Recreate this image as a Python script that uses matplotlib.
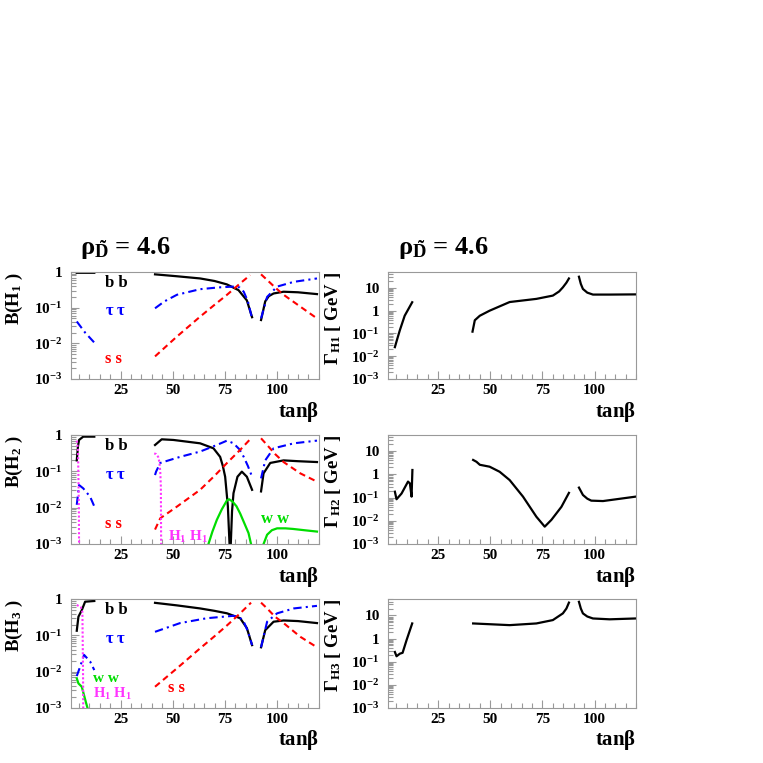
import numpy as np
import matplotlib
matplotlib.use('Agg')
import matplotlib.pyplot as plt
from matplotlib.ticker import FixedLocator, FuncFormatter, LogLocator, NullFormatter, MultipleLocator

nan = np.nan

# police serif grasse comme dans ROOT
plt.rcParams['font.family'] = ['Liberation Serif', 'DejaVu Serif']
plt.rcParams['font.weight'] = 'bold'
plt.rcParams['mathtext.fontset'] = 'custom'
plt.rcParams['mathtext.rm'] = 'Liberation Serif:bold'
plt.rcParams['mathtext.it'] = 'Liberation Serif:bold'
plt.rcParams['mathtext.bf'] = 'Liberation Serif:bold'

# ---- H1 : rapports d'embranchement ----
h1_bb_x = [4, 12.4, nan, 41.5, 52, 63.1, 70, 75.9, 81.5, 85.5, 88, nan, 92.3, 94.3, 96, 98.3, 103.1, 110, 119.1]
h1_bb_y = [0.95, 0.95, nan, 0.86, 0.76, 0.66, 0.56, 0.45, 0.31, 0.16, 0.054, nan, 0.045, 0.15, 0.21, 0.25, 0.28, 0.27, 0.24]
h1_tt_x = [4, 8, 12.4, nan, 41.5, 46, 52, 63.1, 72, 79.1, 82, 84, 86, 88, nan, 92.3, 95.2, 100, 108, 119.1]
h1_tt_y = [0.041, 0.02, 0.0105, nan, 0.096, 0.15, 0.23, 0.33, 0.37, 0.39, 0.37, 0.28, 0.15, 0.05, nan, 0.05, 0.2, 0.39, 0.53, 0.66]
h1_ss_x = [41.5, 52, 63.1, 70, 76, 82.3, 87.1, nan, 92.3, 95.2, 99, 103.1, 111.1, 119.1]
h1_ss_y = [0.0043, 0.0155, 0.056, 0.12, 0.23, 0.48, 0.82, nan, 0.86, 0.6, 0.37, 0.23, 0.107, 0.05]

# ---- H2 ----
h2_bb_x = [4, 4.6, 5.1, 7.1, 12.4, nan, 41.5, 44.7, 50.3, 63.1, 69.5, 72.7, 74, 75.1, 76.4, 77.2, nan,
           77.8, 78.4, 79.1, 81, 83.1, 85.5, 88, nan, 92.3, 93.5, 96.7, 103.1, 110, 119.1]
h2_bb_y = [0.2, 0.5, 0.73, 0.9, 0.9, nan, 0.53, 0.76, 0.73, 0.59, 0.43, 0.25, 0.14, 0.071, 0.011, 0.001, nan,
           0.001, 0.008, 0.025, 0.071, 0.098, 0.071, 0.031, nan, 0.028, 0.088, 0.17, 0.2, 0.19, 0.18]
h2_tt_x = [4, 5.1, 7.1, 10.4, 12.8, nan, 41.5, 42, 44, 53.5, 63.1, 71.1, 76, 79.1, 82, 84, 86, 88, nan,
           92.3, 94.3, 98.3, 108, 119.1]
h2_tt_y = [0.012, 0.042, 0.034, 0.02, 0.0096, nan, 0.079, 0.098, 0.17, 0.25, 0.35, 0.53, 0.7, 0.59, 0.4, 0.25, 0.14, 0.071, nan,
           0.064, 0.2, 0.43, 0.59, 0.7]
h2_ss_x = [41.5, 44, 52, 63.1, 70, 76, 82.3, 87.5, nan, 92.3, 95.2, 99, 103.1, 111.1, 119.1]
h2_ss_y = [0.0025, 0.0051, 0.0107, 0.031, 0.075, 0.17, 0.39, 0.81, nan, 0.81, 0.53, 0.3, 0.18, 0.088, 0.052]
h2_ww_x = [67.1, 69, 71.1, 73.5, 76, 77, 78.5, 80.5, 82.3, 84.5, 86.3, 87.5, nan,
           93.5, 95.2, 97.5, 100, 104, 107.6, 113, 119.1]
h2_ww_y = [0.001, 0.0022, 0.0046, 0.009, 0.016, 0.017, 0.015, 0.011, 0.0069, 0.0035, 0.002, 0.001, nan,
           0.001, 0.0018, 0.0024, 0.0027, 0.0027, 0.0026, 0.0024, 0.0022]
h2_hh_x = [4.0, 4.6, 5.0, 5.2, nan, 41.1, 42, 43.0, 43.6, 44.0, 44.3, 44.5]
h2_hh_y = [0.7, 0.4, 0.01, 0.0001, nan, 0.31, 0.3, 0.25, 0.18, 0.1, 0.038, 0.0001]

# ---- H3 ----
h3_bb_x = [4, 4.8, 6.4, 8, 12.4, nan, 41.5, 52, 63.1, 70, 76, 82.3, 85.5, 88, nan,
           92.3, 94.3, 98.3, 103.1, 110, 119.1]
h3_bb_y = [0.135, 0.33, 0.5, 0.86, 0.9, nan, 0.8, 0.68, 0.56, 0.48, 0.41, 0.3, 0.16, 0.054, nan,
           0.047, 0.14, 0.24, 0.26, 0.25, 0.22]
h3_tt_x = [4, 5.6, 7.5, 10.4, 12.4, nan, 41.5, 53.5, 66.3, 79.1, 82, 84, 86, 88, nan,
           92.3, 95.2, 100, 108, 119.1]
h3_tt_y = [0.0075, 0.0136, 0.029, 0.019, 0.011, nan, 0.126, 0.22, 0.3, 0.35, 0.32, 0.24, 0.13, 0.054, nan,
           0.047, 0.24, 0.41, 0.56, 0.66]
h3_ss_x = [41.5, 52, 63.1, 70, 76, 82.3, 87.5, nan, 92.3, 95.2, 99, 103.1, 111.1, 119.1]
h3_ss_y = [0.0038, 0.0123, 0.044, 0.095, 0.19, 0.41, 0.81, nan, 0.81, 0.56, 0.33, 0.22, 0.092, 0.047]
h3_ww_x = [4, 4.8, 6.4, 7.5, 8.4, 9.1]
h3_ww_y = [0.0065, 0.0047, 0.0038, 0.0022, 0.0014, 0.001]
h3_hh_x = [4.0, 5.0, 6.0, 6.7, 7.0, 7.2]
h3_hh_y = [0.7, 0.65, 0.6, 0.45, 0.01, 0.0001]

# ---- largeurs totales ----
g1_x = [4.3, 5.5, 6.7, 9, 12.6, nan, 41.5, 42.6, 45, 49.7, 59.3, 72.1, 80, 83, 84.8, 86.5, 87.7, nan,
        92.5, 93.4, 94.4, 96.5, 99.2, 107.2, 119.6]
g1_y = [0.025, 0.06, 0.14, 0.6, 2.35, nan, 0.12, 0.38, 0.6, 1.0, 2.4, 3.3, 4.6, 7, 10.6, 17, 26, nan,
        31, 15, 9, 6.2, 5.1, 5.1, 5.2]
g2_x = [4.3, 5.1, 7.5, 10.6, 11.5, 12.3, 12.7, nan, 41.8, 43.4, 45, 49.7, 54.5, 59.3, 65.7, 72.1, 76.1,
        79.3, 84.1, 87.7, nan, 92.5, 94.4, 96.5, 98.4, 104, 119.6]
g2_y = [0.18, 0.085, 0.15, 0.49, 0.41, 0.11, 1.55, nan, 4.2, 3.5, 2.6, 2.15, 1.3, 0.57, 0.11, 0.015, 0.0056,
        0.011, 0.04, 0.16, nan, 0.27, 0.13, 0.09, 0.074, 0.071, 0.11]
g3_x = [4.3, 5.1, 6.7, 8, 9.9, 12.6, nan, 41.8, 59.3, 72.1, 80, 84.8, 86.5, 87.7, nan,
        92.5, 93.4, 94.4, 96.5, 99.2, 107.2, 119.6]
g3_y = [0.26, 0.17, 0.22, 0.24, 0.85, 4.5, nan, 4.5, 3.8, 4.5, 6.3, 12.3, 20, 36, nan,
        39, 20, 12.3, 9, 7.4, 6.8, 7.4]

br_panels = [
    ('1', [(h1_bb_x, h1_bb_y, 'k', '-'), (h1_tt_x, h1_tt_y, 'b', 'dd'), (h1_ss_x, h1_ss_y, 'r', 'd')]),
    ('2', [(h2_bb_x, h2_bb_y, 'k', '-'), (h2_tt_x, h2_tt_y, 'b', 'dd'), (h2_ss_x, h2_ss_y, 'r', 'd'),
           (h2_ww_x, h2_ww_y, '#00dd00', '-'), (h2_hh_x, h2_hh_y, '#ff33ff', ':')]),
    ('3', [(h3_bb_x, h3_bb_y, 'k', '-'), (h3_tt_x, h3_tt_y, 'b', 'dd'), (h3_ss_x, h3_ss_y, 'r', 'd'),
           (h3_ww_x, h3_ww_y, '#00dd00', '-'), (h3_hh_x, h3_hh_y, '#ff33ff', ':')]),
]
width_panels = [('H1', g1_x, g1_y), ('H2', g2_x, g2_y), ('H3', g3_x, g3_y)]

# étiquettes dans les panneaux (texte, x, y en données, couleur, taille)
br_texts = [
    [('b b', 17.5, 0.5, 'k', 12), ('$\\tau$ $\\tau$', 17.5, 0.08, 'b', 12), ('s s', 17.5, 0.0036, 'r', 12)],
    [('b b', 17.5, 0.5, 'k', 12), ('$\\tau$ $\\tau$', 17.5, 0.08, 'b', 12), ('s s', 17.5, 0.0036, 'r', 12),
     ('H$_{1}$ H$_{1}$', 47.5, 0.0016, '#ff33ff', 11), ('w w', 92.5, 0.0049, '#00dd00', 12)],
    [('b b', 17.5, 0.5, 'k', 12), ('$\\tau$ $\\tau$', 17.5, 0.08, 'b', 12), ('s s', 47.5, 0.0034, 'r', 12),
     ('w w', 12.0, 0.0064, '#00dd00', 11), ('H$_{1}$ H$_{1}$', 12.0, 0.0024, '#ff33ff', 10.5)],
]

fig = plt.figure(figsize=(7.63, 7.63), dpi=100)

rows = [(0.5033, 0.1402), (0.2870, 0.1429), (0.0725, 0.1420)]
left_x, right_x, w = 0.0924, 0.5085, 0.3255


def style_axis(ax, ylim, labels):
    ax.set_xlim(1, 120)
    ax.set_yscale('log')
    ax.set_ylim(*ylim)
    for s in ['left', 'bottom', 'top', 'right']:
        ax.spines[s].set_color('#999999')
        ax.spines[s].set_linewidth(0.8)
    ax.xaxis.set_major_locator(FixedLocator([25, 50, 75, 100]))
    ax.xaxis.set_minor_locator(MultipleLocator(5))
    ax.yaxis.set_major_locator(LogLocator(base=10, numticks=10))
    ax.yaxis.set_minor_locator(LogLocator(base=10, subs=np.arange(2, 10), numticks=10))
    ax.yaxis.set_minor_formatter(NullFormatter())
    ax.yaxis.set_major_formatter(FuncFormatter(lambda v, p: labels.get(round(np.log10(v)), '')))
    ax.tick_params(which='both', direction='in', color='#999999', top=False, right=False,
                   labelsize=11)
    ax.tick_params(axis='y', pad=6)
    ax.tick_params(which='major', length=6, width=0.8)
    ax.tick_params(which='minor', length=3.5, width=0.8)
    for lab in ax.get_xticklabels() + ax.get_yticklabels():
        lab.set_fontweight('bold')


br_labels = {0: '1', -1: '$10^{-1}$', -2: '$10^{-2}$', -3: '$10^{-3}$'}
g_labels = {1: '10', 0: '1', -1: '$10^{-1}$', -2: '$10^{-2}$', -3: '$10^{-3}$'}

for i, ((y0, h), (num, curves), texts, (gname, gx, gy)) in enumerate(
        zip(rows, br_panels, br_texts, width_panels)):
    ax = fig.add_axes([left_x, y0, w, h])
    for cx, cy, col, ls in curves:
        if ls == 'd':
            ax.plot(cx, cy, color=col, lw=1.5, dashes=(3, 2))
        elif ls == 'dd':
            ax.plot(cx, cy, color=col, lw=1.5, dashes=(4, 2, 1, 2))
        elif ls == ':':
            ax.plot(cx, cy, color=col, lw=1.5, dashes=(1, 1))
        else:
            ax.plot(cx, cy, color=col, lw=1.6)
    for t, tx, ty, col, fs in texts:
        ax.text(tx, ty, t, color=col, fontsize=fs, fontweight='bold', va='center')
    style_axis(ax, (1e-3, 1.0), br_labels)
    ax.set_ylabel('B(H$_{%s}$ )' % num, fontsize=13.5, fontweight='bold', loc='top', labelpad=6)
    ax.set_xlabel(r'tan$\beta$', fontsize=15, fontweight='bold', loc='right', labelpad=2)

    ax2 = fig.add_axes([right_x, y0, w, h])
    ax2.plot(gx, gy, color='k', lw=1.6)
    style_axis(ax2, (1e-3, 50), g_labels)
    ax2.set_ylabel(r'$\Gamma_{%s}$ [ GeV ]' % gname, fontsize=13.5, fontweight='bold', loc='top', labelpad=6)
    ax2.set_xlabel(r'tan$\beta$', fontsize=15, fontweight='bold', loc='right', labelpad=2)

fig.text(0.105, 0.667, r'$\rho_{\tilde{D}}$ = 4.6', fontsize=19, fontweight='bold', va='baseline')
fig.text(0.521, 0.667, r'$\rho_{\tilde{D}}$ = 4.6', fontsize=19, fontweight='bold', va='baseline')

fig.savefig('out.png', dpi=100)
